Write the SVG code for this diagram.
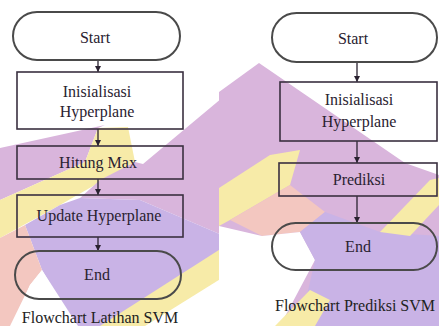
<svg xmlns="http://www.w3.org/2000/svg" width="439" height="326" viewBox="0 0 439 326">
  <defs>
    <style>
      .term { fill: none; stroke: #4a4a4a; stroke-width: 2; }
      .box { fill: none; stroke: #3a3040; stroke-width: 1.6; }
      .lbl { font-family: "Liberation Serif", "Times New Roman", serif; font-size: 16px; fill: #2a2230; text-anchor: middle; }
      .cap { font-family: "Liberation Serif", "Times New Roman", serif; font-size: 16px; fill: #222; text-anchor: middle; }
      .edge { stroke: #2a2230; stroke-width: 1.3; fill: none; marker-end: url(#arrow); }
      .pur { fill: #d9b5dc; }
      .lav { fill: #c9b3e6; }
      .yel { fill: #f7eba8; }
      .pnk { fill: #f3c7c0; }
      .wht { fill: #ffffff; }
    </style>
    <marker id="arrow" viewBox="0 0 8 8" refX="8" refY="4" markerWidth="6" markerHeight="6" markerUnits="userSpaceOnUse" orient="auto">
      <path d="M0,0 L8,4 L0,8 z" fill="#2a2230"/>
    </marker>
  </defs>
  <rect width="439" height="326" fill="#ffffff"/>
  <g id="watermark">
    <polygon class="pur" points="0,148 105,125 98,128 85,162 0,200"/>
    <polygon class="yel" points="0,200 85,162 98,128 128,127 135,162 60,205 0,238"/>
    <polygon class="pur" points="135,162 143,164 222,98 222,235 140,200 80,198 100,180"/>
    <polygon class="lav" points="60,205 80,198 140,200 222,235 222,250 110,326 78,326 42,270 25,225"/>
    <polygon class="pnk" points="0,238 25,225 42,270 30,285 10,326 0,326"/>
    <polygon class="wht" points="30,285 42,270 75,326 12,326"/>
    <polygon class="yel" points="100,326 222,248 222,278 145,326"/>
    <polygon class="pur" points="219,92 259,63 405,163 439,175 439,326 219,326"/>
    <polygon class="yel" points="219,188 270,155 300,150 290,185 230,220 219,226"/>
    <polygon class="pnk" points="230,220 290,185 325,212 300,232 262,236"/>
    <polygon class="wht" points="219,226 262,236 300,232 315,260 280,326 219,326"/>
    <polygon class="lav" points="300,232 325,212 380,232 439,236 439,326 300,326 315,260"/>
    <polygon class="yel" points="380,232 430,180 439,178 439,205 410,236"/>
    <polygon class="yel" points="275,326 310,290 330,300 315,326"/>
  </g>
  <g id="connectors">
    <line class="edge" x1="98" y1="60" x2="98" y2="72"/>
    <line class="edge" x1="98" y1="129" x2="98" y2="146"/>
    <line class="edge" x1="98" y1="179" x2="98" y2="195"/>
    <line class="edge" x1="98" y1="237" x2="98" y2="251"/>
    <line class="edge" x1="357" y1="62" x2="357" y2="82"/>
    <line class="edge" x1="357" y1="141" x2="357" y2="163"/>
    <line class="edge" x1="357" y1="196" x2="357" y2="223"/>
  </g>
  <g id="l-start">
    <rect class="term" x="13" y="12" width="167" height="48" rx="24"/>
    <text class="lbl" x="95" y="43">Start</text>
  </g>
  <g id="l-init">
    <rect class="box" x="17" y="72" width="166" height="57"/>
    <text class="lbl" x="97" y="97">Inisialisasi</text>
    <text class="lbl" x="97" y="117">Hyperplane</text>
  </g>
  <g id="l-hitung">
    <rect class="box" x="17" y="146" width="166" height="33"/>
    <text class="lbl" x="98" y="168">Hitung Max</text>
  </g>
  <g id="l-update">
    <rect class="box" x="17" y="195" width="166" height="42"/>
    <text class="lbl" x="99" y="221">Update Hyperplane</text>
  </g>
  <g id="l-end">
    <rect class="term" x="15" y="251" width="166" height="48" rx="24"/>
    <text class="lbl" x="97" y="280">End</text>
  </g>
  <g id="l-caption">
    <text class="cap" x="100" y="323">Flowchart Latihan SVM</text>
  </g>
  <g id="r-start">
    <rect class="term" x="272" y="13" width="165" height="49" rx="24.5"/>
    <text class="lbl" x="353" y="44">Start</text>
  </g>
  <g id="r-init">
    <rect class="box" x="280" y="82" width="157" height="59"/>
    <text class="lbl" x="359" y="105">Inisialisasi</text>
    <text class="lbl" x="359" y="127">Hyperplane</text>
  </g>
  <g id="r-prediksi">
    <rect class="box" x="279" y="163" width="158" height="33"/>
    <text class="lbl" x="359" y="185">Prediksi</text>
  </g>
  <g id="r-end">
    <rect class="term" x="272" y="223" width="165" height="47" rx="23.5"/>
    <text class="lbl" x="358" y="252">End</text>
  </g>
  <g id="r-caption">
    <text class="cap" x="355" y="311">Flowchart Prediksi SVM</text>
  </g>
</svg>
